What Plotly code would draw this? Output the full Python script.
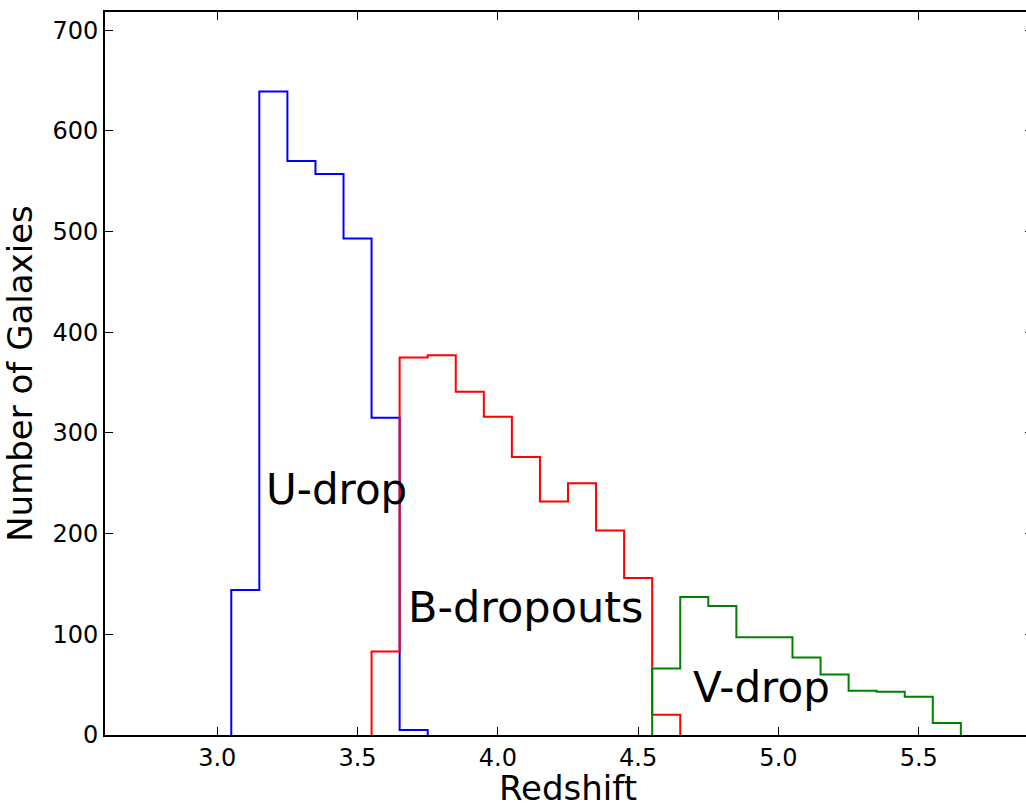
import plotly.graph_objects as go

# U-dropouts
u_edges = [3.05, 3.15, 3.25, 3.35, 3.45, 3.55, 3.65, 3.75]
u_counts = [144, 639, 570, 557, 493, 315, 5]
# B-dropouts
b_edges = [3.55, 3.65, 3.75, 3.85, 3.95, 4.05, 4.15, 4.25, 4.35, 4.45, 4.55, 4.65]
b_counts = [83, 375, 377, 341, 316, 276, 232, 250, 203, 156, 20]
# V-dropouts
v_edges = [4.55, 4.65, 4.75, 4.85, 4.95, 5.05, 5.15, 5.25, 5.35, 5.45, 5.55, 5.65]
v_counts = [66, 137, 128, 97, 97, 77, 60, 44, 43, 38, 12]

x_ticks = [3.0, 3.5, 4.0, 4.5, 5.0, 5.5]
y_ticks = [0, 100, 200, 300, 400, 500, 600, 700]

FONT = "DejaVu Sans"


def step_trace(edges, counts, color):
    xs = [edges[0]] + list(edges)
    ys = [0] + list(counts) + [0]
    return go.Scatter(x=xs, y=ys, mode="lines", line=dict(color=color, width=2, shape="hv"),
                      showlegend=False, hoverinfo="skip")


fig = go.Figure()
fig.add_trace(step_trace(u_edges, u_counts, "#0000ff"))
fig.add_trace(step_trace(b_edges, b_counts, "#ff0000"))
fig.add_trace(step_trace(v_edges, v_counts, "#008000"))
# invisible trace for right-side ticks
fig.add_trace(go.Scatter(x=[3.0], y=[0], yaxis="y2", mode="markers", marker=dict(opacity=0),
                         showlegend=False, hoverinfo="skip"))

fig.add_annotation(x=3.165, y=244, text="U-drop", showarrow=False, xanchor="left", yanchor="middle",
                   font=dict(family=FONT, size=42, color="black"))
fig.add_annotation(x=3.672, y=127, text="B-dropouts", showarrow=False, xanchor="left", yanchor="middle",
                   font=dict(family=FONT, size=43, color="black"))
fig.add_annotation(x=4.688, y=47, text="V-drop", showarrow=False, xanchor="left", yanchor="middle",
                   font=dict(family=FONT, size=42, color="black"))

fig.update_layout(
    width=1031, height=808,
    margin=dict(l=105, r=0, t=12, b=73, autoexpand=False),
    paper_bgcolor="white", plot_bgcolor="white",
    font=dict(family=FONT, color="black"),
    xaxis=dict(range=[2.6, 5.9], tickvals=x_ticks, ticktext=[f"{v:.1f}" for v in x_ticks],
               ticks="inside", ticklen=8, tickwidth=1, tickcolor="black",
               showline=True, linecolor="black", linewidth=2, mirror="ticks",
               showgrid=False, zeroline=False, automargin=False,
               tickfont=dict(size=24, family=FONT, color="black"),
               title=dict(text="Redshift", font=dict(size=34, family=FONT, color="black"), standoff=2)),
    yaxis=dict(range=[0, 718], tickvals=y_ticks, ticks="inside", ticklen=8, tickwidth=1, tickcolor="black",
               showline=True, linecolor="black", linewidth=2, mirror=False,
               showgrid=False, zeroline=False, automargin=False,
               tickfont=dict(size=24, family=FONT, color="black"),
               title=dict(text="Number of Galaxies", font=dict(size=34, family=FONT, color="black"), standoff=9)),
    yaxis2=dict(range=[0, 718], tickvals=y_ticks, overlaying="y", side="right",
                ticks="inside", ticklen=6, tickwidth=1, tickcolor="black", automargin=False,
                showticklabels=False, showline=False, showgrid=False, zeroline=False),
)

fig.write_html("out.html", config={"displayModeBar": False},
               post_script="document.body.style.margin='0';document.body.style.overflow='hidden';")
